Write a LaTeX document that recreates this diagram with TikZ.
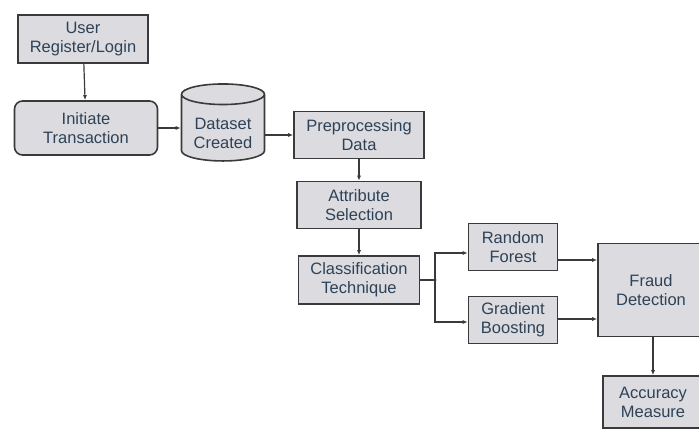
\documentclass[tikz,border=0pt]{standalone}
\usepackage{fontspec}
\setmainfont{Liberation Sans}
\usetikzlibrary{arrows.meta,shapes.geometric}
\definecolor{boxfill}{HTML}{DCDCE0}
\definecolor{boxline}{HTML}{3A3A3A}
\definecolor{txt}{HTML}{2E4257}
\tikzset{
  x=1pt,y=-1pt,
  blk/.style={draw=boxline,line width=1.6pt,fill=boxfill,align=center,text=txt,font=\fontsize{16.5}{19}\selectfont,inner sep=0pt},
  conn/.style={draw=boxline,line width=1.2pt,-{Latex[length=5pt,width=4pt]}},
  line/.style={draw=boxline,line width=1.2pt}
}
\begin{document}
\begin{tikzpicture}
\useasboundingbox (0,0) rectangle (699,435);
\clip (0,0) rectangle (699,435);
\node[blk,minimum width=130pt,minimum height=48pt] (user) at (83,39) {User\\Register/Login};
\node[blk,rounded corners=8pt,minimum width=143pt,minimum height=54pt] (init) at (86,128) {Initiate\\Transaction};
\node[blk,cylinder,shape border rotate=90,aspect=0.35,minimum width=83pt,minimum height=77pt] (data) at (223,128) {\raisebox{-21pt}[0pt][0pt]{\shortstack{Dataset\\[4pt]Created}}};
\node[blk,minimum width=130pt,minimum height=47pt] (pre) at (359,135) {Preprocessing\\Data};
\node[blk,minimum width=124pt,minimum height=47pt] (attr) at (359,205) {Attribute\\Selection};
\node[blk,minimum width=121pt,minimum height=48pt] (cls) at (359,280) {Classification\\Technique};
\node[blk,minimum width=89pt,minimum height=47pt] (rf) at (513,247) {Random\\Forest};
\node[blk,minimum width=89pt,minimum height=47pt] (gb) at (513,320) {Gradient\\Boosting};
\node[blk,minimum width=106pt,minimum height=93pt] (fraud) at (651,290) {Fraud\\Detection};
\node[blk,minimum width=100pt,minimum height=52pt] (acc) at (653,402) {Accuracy\\Measure};
\coordinate (j) at (435,280);
\draw[conn] (user) -- (init);
\draw[conn] (init) -- (data);
\draw[conn] (data.east |- pre.west) -- (pre.west);
\draw[conn] (pre) -- (attr);
\draw[conn] (attr) -- (cls);
\draw[line] (cls.east |- j) -- (j);
\draw[conn] (j) |- (rf.west |- 0,253);
\draw[conn] (j) |- (gb.west |- 0,322);
\draw[conn] (rf.east |- 0,260) -- (fraud.west |- 0,260);
\draw[conn] (gb.east |- 0,319) -- (fraud.west |- 0,319);
\draw[conn] (fraud.south -| acc) -- (acc);
\fill[boxline] (j) circle (1.6pt);
\end{tikzpicture}
\end{document}
